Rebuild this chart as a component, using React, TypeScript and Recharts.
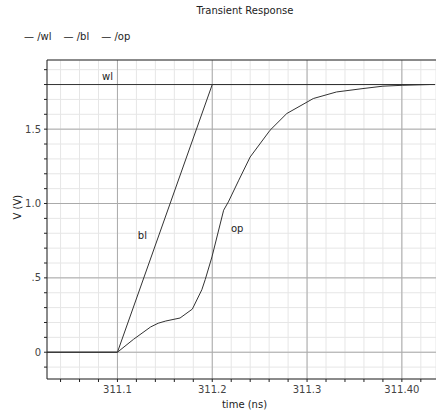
import {
  LineChart,
  Line,
  XAxis,
  YAxis,
  CartesianGrid,
  ReferenceLine,
  ReferenceDot,
} from "recharts";

// transient sim readouts (time in ns, volts)
const wlData = [
  { t: 311.0257, v: 1.8 },
  { t: 311.435, v: 1.8 },
];

const blData = [
  { t: 311.0257, v: 0 },
  { t: 311.1, v: 0 },
  { t: 311.2, v: 1.8 },
  { t: 311.435, v: 1.8 },
];

const opData = [
  { t: 311.0257, v: 0 },
  { t: 311.1, v: 0 },
  { t: 311.117, v: 0.087 },
  { t: 311.135, v: 0.17 },
  { t: 311.143, v: 0.195 },
  { t: 311.151, v: 0.21 },
  { t: 311.166, v: 0.23 },
  { t: 311.179, v: 0.29 },
  { t: 311.189, v: 0.42 },
  { t: 311.1926, v: 0.489 },
  { t: 311.1997, v: 0.641 },
  { t: 311.212, v: 0.955 },
  { t: 311.217, v: 1.011 },
  { t: 311.228, v: 1.157 },
  { t: 311.24, v: 1.313 },
  { t: 311.261, v: 1.493 },
  { t: 311.2786, v: 1.605 },
  { t: 311.3066, v: 1.706 },
  { t: 311.331, v: 1.75 },
  { t: 311.359, v: 1.773 },
  { t: 311.38, v: 1.789 },
  { t: 311.401, v: 1.795 },
  { t: 311.429, v: 1.8 },
];

const xTicks = [
  311.04, 311.06, 311.08, 311.1, 311.12, 311.14, 311.16, 311.18, 311.2,
  311.22, 311.24, 311.26, 311.28, 311.3, 311.32, 311.34, 311.36, 311.38,
  311.4, 311.42,
];
const xMajor = [311.1, 311.2, 311.3, 311.4];
const xLabels: Record<string, string> = {
  "311.10": "311.1",
  "311.20": "311.2",
  "311.30": "311.3",
  "311.40": "311.40",
};

const yTicks = [
  -0.1, 0, 0.1, 0.2, 0.3, 0.4, 0.5, 0.6, 0.7, 0.8, 0.9, 1.0, 1.1, 1.2, 1.3,
  1.4, 1.5, 1.6, 1.7, 1.8, 1.9,
];
const yMajor = [0, 0.5, 1.0, 1.5];
const yLabels: Record<string, string> = {
  "0.0": "0",
  "0.5": ".5",
  "1.0": "1.0",
  "1.5": "1.5",
};

const curveLabels = [
  { name: "wl", t: 311.0895, v: 1.856 },
  { name: "bl", t: 311.1263, v: 0.787 },
  { name: "op", t: 311.2263, v: 0.834 },
];

const legendItems = ["/wl", "/bl", "/op"];

const xDomain = [311.0257, 311.436];
const yDomain = [-0.18, 1.965];

const font = "'DejaVu Sans', sans-serif";
const lineColor = "#333";

export default function App() {
  return (
    <div
      style={{
        position: "absolute",
        left: 0,
        top: 0,
        width: 436,
        height: 412,
        background: "#fff",
        fontFamily: font,
      }}
    >
      <div
        style={{
          position: "absolute",
          top: 5,
          left: 0,
          width: 490,
          textAlign: "center",
          fontSize: 10,
          color: "#222",
        }}
      >
        Transient Response
      </div>
      <div
        style={{
          position: "absolute",
          top: 31,
          left: 24,
          display: "flex",
          gap: 12,
          fontSize: 10,
          color: "#222",
        }}
      >
        {legendItems.map((n) => (
          <span key={n}>— {n}</span>
        ))}
      </div>
      <LineChart
        width={436}
        height={412}
        margin={{ top: 60, right: 0, bottom: 0, left: 0 }}
        style={{ fontFamily: font }}
      >
        <CartesianGrid stroke="#e6e6e6" />
        <XAxis
          type="number"
          dataKey="t"
          domain={xDomain}
          allowDataOverflow
          ticks={xTicks}
          interval={0}
          height={33}
          tickSize={3}
          tickMargin={4}
          stroke="#222"
          tick={{ fontSize: 10, fill: "#444" }}
          tickFormatter={(v: number) => xLabels[v.toFixed(2)] ?? ""}
          label={{
            value: "time (ns)",
            position: "insideBottom",
            offset: 4,
            dx: 3,
            fontSize: 10,
            fill: "#222",
          }}
        />
        <YAxis
          type="number"
          domain={yDomain}
          allowDataOverflow
          ticks={yTicks}
          interval={0}
          width={47}
          tickSize={3}
          tickMargin={3}
          stroke="#222"
          tick={{ fontSize: 10, fill: "#444" }}
          tickFormatter={(v: number) => yLabels[v.toFixed(1)] ?? ""}
          label={{
            value: "V (V)",
            angle: -90,
            position: "insideLeft",
            offset: 17,
            fontSize: 10,
            fill: "#222",
          }}
        />
        {xMajor.map((x) => (
          <ReferenceLine key={"x" + x} x={x} stroke="#aaa" />
        ))}
        {yMajor.map((y) => (
          <ReferenceLine key={"y" + y} y={y} stroke="#aaa" />
        ))}
        <ReferenceLine y={yDomain[1]} stroke="#222" />
        <Line
          data={wlData}
          dataKey="v"
          type="linear"
          stroke={lineColor}
          strokeWidth={1}
          dot={false}
          isAnimationActive={false}
        />
        <Line
          data={blData}
          dataKey="v"
          type="linear"
          stroke={lineColor}
          strokeWidth={1}
          dot={false}
          isAnimationActive={false}
        />
        <Line
          data={opData}
          dataKey="v"
          type="linear"
          stroke={lineColor}
          strokeWidth={1}
          dot={false}
          isAnimationActive={false}
        />
        {curveLabels.map((c) => (
          <ReferenceDot
            key={c.name}
            x={c.t}
            y={c.v}
            r={0}
            stroke="none"
            label={{
              value: c.name,
              position: "center",
              fontSize: 10,
              fill: "#222",
            }}
          />
        ))}
      </LineChart>
    </div>
  );
}
